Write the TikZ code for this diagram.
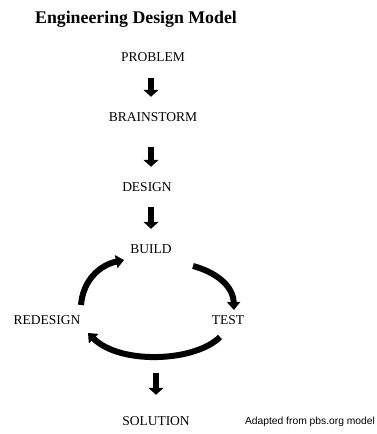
\documentclass[tikz,border=0pt]{standalone}
\usepackage{fontspec}
\setmainfont{Liberation Serif}
\newfontfamily\adfont{Liberation Sans}
\usetikzlibrary{arrows.meta}
\begin{document}
\begin{tikzpicture}[x=1pt,y=1pt,
  lbl/.style={inner sep=0pt, font=\fontsize{13.5}{16}\selectfont},
  blk/.style={line width=6.5pt, -{Triangle[width=15pt,length=7pt]}},
  cyc/.style={line width=6pt, -{Triangle[width=13pt,length=8pt]}}]
\useasboundingbox (0,0) rectangle (376,434);
\fill[white] (0,0) rectangle (376,434);
\node[font=\bfseries\fontsize{17.8}{20}\selectfont, inner sep=0pt] (title) at (136,415) {Engineering Design Model};
\node[lbl] (prob) at (153,377) {PROBLEM};
\node[lbl] (brain) at (153,317) {BRAINSTORM};
\node[lbl] (des) at (147,246.5) {DESIGN};
\node[lbl] (build) at (151,185) {BUILD};
\node[lbl] (redes) at (47,114) {REDESIGN};
\node[lbl] (test) at (228,114) {TEST};
\node[lbl] (sol) at (156,13) {SOLUTION};
\node[font=\adfont\fontsize{10.3}{12}\selectfont, inner sep=0pt] (adapt) at (310,12) {Adapted from pbs.org model};
% straight arrows
\draw[blk, shorten <=16pt, shorten >=15.5pt] (prob.south -| build) -- (brain.north -| build);
\draw[blk, shorten <=25.5pt, shorten >=16pt] (brain.south -| build) -- (des.north -| build);
\draw[blk, shorten <=15pt, shorten >=15.5pt] (des.south -| build) -- (build.north);
\coordinate (ds) at (156,61);
\draw[blk, shorten >=21.5pt] (ds) -- (sol.north);
% cycle
\coordinate (ls) at (81,129);
\coordinate (le) at (124,174);
\coordinate (rs) at (193,168);
\coordinate (re) at (234,124);
\coordinate (bs) at (220,97);
\coordinate (be) at (88,101);
\draw[cyc] (ls) .. controls (83,154) and (100,169) .. (le);
\draw[cyc] (rs) .. controls (215,162) and (233,149) .. (re);
\draw[cyc] (bs) .. controls (195,72) and (120,69) .. (be);
\end{tikzpicture}
\end{document}
